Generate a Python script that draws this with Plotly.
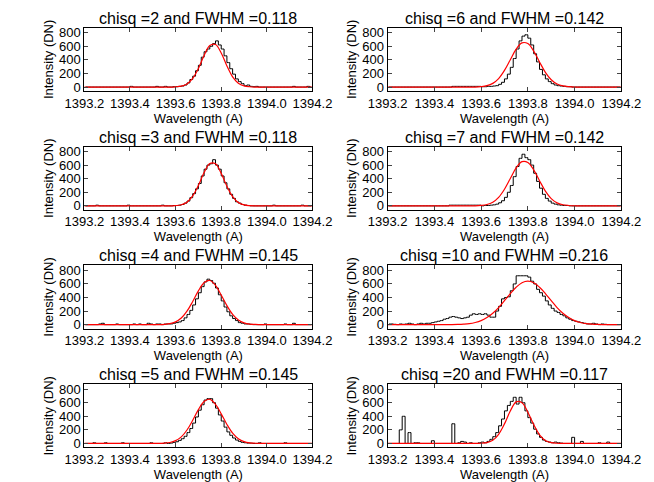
import numpy as np
import plotly.graph_objects as go

# Histogram bins (0.0125 A) and fit sample grid (0.025 A)
bin_centers = 1393.20625 + 0.0125 * np.arange(80)
fit_x = 1393.2 + 0.025 * np.arange(41)

titles = ["chisq =2 and FWHM =0.118", "chisq =6 and FWHM =0.142",
          "chisq =3 and FWHM =0.118", "chisq =7 and FWHM =0.142",
          "chisq =4 and FWHM =0.145", "chisq =10 and FWHM =0.216",
          "chisq =5 and FWHM =0.145", "chisq =20 and FWHM =0.117"]

counts_chisq2 = ([0,0,0,0,0,0,0,0,0,0,0,0,0,0,0,0,10,0,0,0,0,0,0,0,0,10,0,0,10,0]
                 + [0,5,5,10,15,30,60,110,160,240,320,440,520,560,600,640,680,620,560,460,360,270,190,120,80,50,20,30,10,5,10,0]
                 + [0,0,0,0,0,0,0,0,0,0,0,10,0,0,0,0,10,0])
counts_chisq3 = ([0,0,0,0,10,0,0,0,0,0,0,0,0,0,0,10,0,0,0,0,0,0,0,0,0,0,0,10,0,0]
                 + [0,5,5,10,20,40,70,120,180,250,330,440,540,600,620,680,600,540,440,340,250,170,110,60,40,20,10,5,0,0,0,0]
                 + [0,0,0,0,10,0,0,0,0,0,0,0,0,0,10,0,0,0])
counts_chisq4 = ([0,0,0,0,0,10,20,0,0,0,0,10,0,0,0,0,0,10,0,10,0,0,20,10,0,10,10,0,10,10]
                 + [10,20,30,40,60,100,150,210,290,380,470,560,630,670,650,610,540,440,350,260,190,130,90,60,30,20,10,10,5,0,0,0]
                 + [0,10,0,0,0,0,0,0,10,0,0,20,0,0,0,0,0,0])
counts_chisq5 = ([0,0,0,10,0,0,0,10,0,0,0,0,0,10,0,0,0,0,0,0,0,0,0,10,0,0,0,0,10,0]
                 + [5,15,25,45,70,105,160,220,300,390,490,570,640,660,660,600,520,420,330,240,170,120,80,50,30,15,10,5,5,0,0,10]
                 + [0,0,0,0,0,0,0,0,10,0,0,0,0,0,0,0,0,0])
counts_chisq6 = ([0,0,0,0,0,0,0,0,0,0,0,0,0,0,0,0,0,0,0,0,0,0,10,10,10,10,10,10,10,10]
                 + [10,10,5,5,10,10,15,20,40,70,120,190,290,420,560,680,750,770,720,620,490,370,260,180,120,80,50,30,20,15,10,5]
                 + [5,0,0,0,0,0,0,0,0,0,0,0,0,0,0,0,0,0])
counts_chisq7 = ([0,0,0,0,0,0,0,0,0,0,0,0,0,0,0,0,0,0,0,0,0,10,10,10,10,10,10,10,10,10]
                 + [10,10,0,5,5,10,15,25,45,75,125,200,300,430,580,700,760,710,680,600,480,360,260,170,110,70,40,25,15,10,5,5]
                 + [0,0,0,0,0,0,0,0,0,0,0,0,0,0,0,0,0,0])
counts_chisq10 = ([10,10,5,0,10,5,10,20,10,0,10,20,10,20,20,30,40,50,60,80,90,110,120,110,100,90,100,110,140,160]
                  + [150,160,150,160,140,110,110,200,270,380,400,410,500,600,720,720,720,720,700,640,600,520,470,420,350,290,240,200,180,150,130,100]
                  + [80,60,50,40,30,20,10,10,20,10,0,10,5,0,0,0,0,0])
counts_chisq20 = ([0,0,0,0,200,400,0,160,0,10,10,0,0,0,0,40,0,0,0,0,0,0,290,0,10,30,20,0,10,0]
                  + [0,10,20,10,30,60,100,160,260,360,480,560,620,680,580,680,600,480,380,300,210,140,90,50,30,20,10,20,10,5,0,0]
                  + [0,90,0,0,30,0,0,0,0,0,10,0,0,20,0,0,0,0])

fit_chisq2 = [0]*16 + [3,13,45,127,274,465,612,627,501,311,151,57,17,4] + [0]*11
fit_chisq3 = [0]*16 + [4,16,54,146,300,490,624,620,478,288,136,50,14,3] + [0]*11
fit_chisq4 = [0]*14 + [4,14,41,97,198,341,498,617,650,577,436,280,152,70,27,9,3] + [0]*10
fit_chisq5 = [0]*14 + [4,14,41,97,198,341,498,617,650,577,436,280,152,70,27,9,3] + [0]*10
fit_chisq6 = [0]*16 + [6,20,54,125,245,402,558,651,640,530,370,217,107,44,16,5] + [0]*9
fit_chisq7 = [0]*16 + [6,20,54,125,245,402,558,651,640,530,370,217,107,44,16,5] + [0]*9
fit_chisq10 = [0]*11 + [1,3,7,15,32,59,104,168,252,353,458,551,617,640,617,551,458,353,252,168,104,59,32,15,7,3,1] + [0]*3
fit_chisq20 = [0]*16 + [3,13,47,135,288,478,612,600,460,280,128,45,12,3] + [0]*11

# order: row-major (left, right)
counts = [counts_chisq2, counts_chisq6, counts_chisq3, counts_chisq7,
          counts_chisq4, counts_chisq10, counts_chisq5, counts_chisq20]
fits = [fit_chisq2, fit_chisq6, fit_chisq3, fit_chisq7,
        fit_chisq4, fit_chisq10, fit_chisq5, fit_chisq20]

W, H = 654, 482
xdoms = [[60 / W, 303 / W], [383 / W, 632 / W]]
fig = go.Figure()
layout = dict(width=W, height=H, margin=dict(l=0, r=0, t=0, b=0),
              paper_bgcolor="white", plot_bgcolor="white", showlegend=False,
              font=dict(family="Liberation Sans, Arial, sans-serif", color="black", size=13))
annotations = []

for n in range(8):
    row, col = n // 2, n % 2
    top = 18 + 120.3 * row
    ydom = [1 - (top + 64) / H, 1 - top / H]
    xa = "x" if n == 0 else f"x{n+1}"
    ya = "y" if n == 0 else f"y{n+1}"
    fig.add_trace(go.Scatter(x=bin_centers, y=counts[n], mode="lines", line_shape="hvh",
                             line=dict(color="black", width=1), xaxis=xa, yaxis=ya))
    fig.add_trace(go.Scatter(x=fit_x, y=fits[n], mode="lines", line_shape="spline",
                             line=dict(color="red", width=1.2), xaxis=xa, yaxis=ya))
    axstyle = dict(showline=True, linecolor="black", linewidth=1, mirror="ticks",
                   ticks="inside", ticklen=4, showgrid=False, zeroline=False,
                   tickfont=dict(size=13))
    layout["xaxis" if n == 0 else f"xaxis{n+1}"] = dict(
        axstyle, domain=xdoms[col], range=[1393.2, 1394.2], anchor=ya,
        tickvals=[1393.2, 1393.4, 1393.6, 1393.8, 1394.0, 1394.2],
        ticktext=["1393.2", "1393.4", "1393.6", "1393.8", "1394.0", "1394.2"],
        title=dict(text="Wavelength (A)", font=dict(size=13), standoff=0))
    layout["yaxis" if n == 0 else f"yaxis{n+1}"] = dict(
        axstyle, domain=ydom, range=[-58, 873], anchor=xa,
        tickvals=[0, 200, 400, 600, 800],
        title=dict(text="Intensity (DN)", font=dict(size=13), standoff=2))
    annotations.append(dict(text=titles[n], xref="paper", yref="paper",
                            x=sum(xdoms[col]) / 2, xanchor="center",
                            y=ydom[1], yanchor="bottom",
                            showarrow=False, font=dict(size=16), yshift=-1))

layout["annotations"] = annotations
fig.update_layout(**layout)
fig.write_html("out.html")
